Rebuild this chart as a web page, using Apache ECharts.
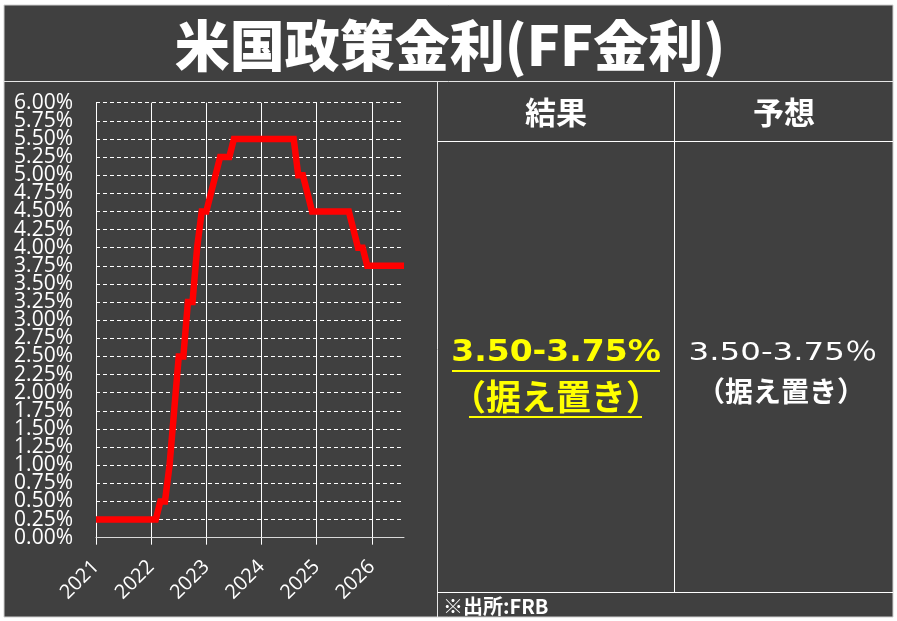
<!DOCTYPE html>
<html>
<head>
<meta charset="utf-8">
<script src="https://cdn.jsdelivr.net/npm/echarts@6/dist/echarts.min.js"></script>
<style>
html,body{margin:0;padding:0;background:#ffffff;}
#chart{width:897px;height:621px;}
</style>
</head>
<body>
<div id="chart"></div>
<script>
// ---- data ----
const titleText = '米国政策金利(FF金利)';
const months = [
 '2021-01','2021-02','2021-03','2021-04','2021-05','2021-06','2021-07','2021-08','2021-09','2021-10','2021-11','2021-12',
 '2022-01','2022-02','2022-03','2022-04','2022-05','2022-06','2022-07','2022-08','2022-09','2022-10','2022-11','2022-12',
 '2023-01','2023-02','2023-03','2023-04','2023-05','2023-06','2023-07','2023-08','2023-09','2023-10','2023-11','2023-12',
 '2024-01','2024-02','2024-03','2024-04','2024-05','2024-06','2024-07','2024-08','2024-09','2024-10','2024-11','2024-12',
 '2025-01','2025-02','2025-03','2025-04','2025-05','2025-06','2025-07','2025-08','2025-09','2025-10','2025-11','2025-12',
 '2026-01','2026-02','2026-03','2026-04','2026-05','2026-06','2026-07','2026-08'
];
const ffRate = [
 0.25,0.25,0.25,0.25,0.25,0.25,0.25,0.25,0.25,0.25,0.25,0.25,
 0.25,0.25,0.50,0.50,1.00,1.75,2.50,2.50,3.25,3.25,4.00,4.50,
 4.50,4.75,5.00,5.25,5.25,5.25,5.50,5.50,5.50,5.50,5.50,5.50,
 5.50,5.50,5.50,5.50,5.50,5.50,5.50,5.50,5.00,5.00,4.75,4.50,
 4.50,4.50,4.50,4.50,4.50,4.50,4.50,4.50,4.25,4.00,4.00,3.75,
 3.75,3.75,3.75,3.75,3.75,3.75,3.75,3.75
];
const yMin = 0, yMax = 6, yStep = 0.25;
const tableHeaders = ['結果', '予想'];
const resultLines = ['3.50-3.75%', '（据え置き）'];
const forecastLines = ['3.50-3.75％', '（据え置き）'];
const sourceNote = '※出所:FRB';

// ---- chart ----
const chart = echarts.init(document.getElementById('chart'), null, {renderer: 'canvas'});
const DARK = '#404040';
const LINE = '#e6e6e6';
const jp = '"Noto Sans CJK JP", "Noto Sans", sans-serif';
const isYearStart = (idx) => idx % 12 === 0;
const yLabelStyle = {margin: 23, color: '#ffffff', fontFamily: 'Open Sans', fontSize: 21};
const pct = (v) => v.toFixed(2) + '%';

function txt(text, x, y, font, fill, align, sx) {
  return {
    type: 'text', x: x, y: y, z: 100, scaleX: sx || 1,
    style: {
      text: text, font: font, fill: fill,
      align: align || 'center', verticalAlign: 'middle',
      textAlign: align || 'center', textVerticalAlign: 'middle'
    }
  };
}
function ln(x1, y1, x2, y2, color, w) {
  return {type: 'line', z: 100, shape: {x1, y1, x2, y2}, style: {stroke: color || LINE, lineWidth: w || 1}};
}

const graphics = [
  {type: 'rect', z: -10, shape: {x: 4, y: 5, width: 889, height: 612}, style: {fill: DARK, stroke: '#d0d0d0', lineWidth: 1}},
  ln(4, 81.5, 893, 81.5),
  ln(437.5, 82, 437.5, 617),
  // table
  ln(437.5, 141.5, 893, 141.5, '#ffffff'),
  ln(674.5, 82, 674.5, 592, '#ffffff'),
  ln(437.5, 592.5, 893, 592.5, '#ffffff'),
  txt(titleText, 450, 45, '900 55px ' + jp, '#ffffff'),
  txt(tableHeaders[0], 556, 112, 'bold 31px ' + jp, '#ffffff'),
  txt(tableHeaders[1], 784, 112, 'bold 31px ' + jp, '#ffffff'),
  txt(resultLines[0], 556, 353, 'bold 30px "DejaVu Sans"', '#ffff00', 'center', 1.1),
  ln(452, 371, 660, 371, '#ffff00', 2),
  txt(resultLines[1], 556, 397, 'bold 35px ' + jp, '#ffff00'),
  ln(469, 417, 642, 417, '#ffff00', 2),
  txt(forecastLines[0], 783, 353, '25px "DejaVu Sans", ' + jp, '#ffffff', 'center', 1.3),
  txt(forecastLines[1], 781, 391, 'bold 28px ' + jp, '#ffffff'),
  txt(sourceNote, 443, 606, 'bold 20px ' + jp, '#ffffff', 'left')
];

const option = {
  backgroundColor: '#ffffff',
  animation: false,
  graphic: {elements: graphics},
  grid: {left: 96, right: 493, top: 102.7, bottom: 83.3, containLabel: false},
  xAxis: {
    type: 'category',
    data: months,
    boundaryGap: false,
    axisLine: {show: true, lineStyle: {color: '#d9d9d9', width: 1}},
    axisTick: {show: true, length: 7, interval: isYearStart, lineStyle: {color: '#ffffff'}},
    axisLabel: {
      interval: isYearStart, rotate: 45, margin: 26,
      color: '#ffffff', fontFamily: 'Open Sans', fontSize: 20,
      formatter: (v) => v.slice(0, 4)
    },
    splitLine: {show: true, interval: isYearStart, lineStyle: {color: '#ffffff', width: 1, type: 'solid'}}
  },
  yAxis: [{
    type: 'value', min: yMin, max: yMax, interval: yStep, position: 'left',
    axisLine: {show: true, lineStyle: {color: '#ffffff', width: 1}},
    axisTick: {show: false},
    axisLabel: Object.assign({showMinLabel: false, showMaxLabel: false, formatter: pct}, yLabelStyle),
    splitLine: {show: true, lineStyle: {color: '#ffffff', width: 1, type: [4, 3]}}
  }, {
    // end labels (0.00% / 6.00%) on a twin axis so they are not dropped as overlapping
    type: 'value', min: yMin, max: yMax, interval: yMax - yMin, position: 'left', offset: 0,
    axisLine: {show: false}, axisTick: {show: false}, splitLine: {show: false},
    axisLabel: Object.assign({showMinLabel: true, showMaxLabel: true, formatter: pct}, yLabelStyle)
  }],
  series: [{
    type: 'line',
    data: ffRate,
    yAxisIndex: 0,
    showSymbol: false,
    symbol: 'none',
    smooth: false,
    lineStyle: {color: '#ff0000', width: 6.5, join: 'miter', cap: 'butt'},
    z: 5
  }]
};
chart.setOption(option);
</script>
</body>
</html>
